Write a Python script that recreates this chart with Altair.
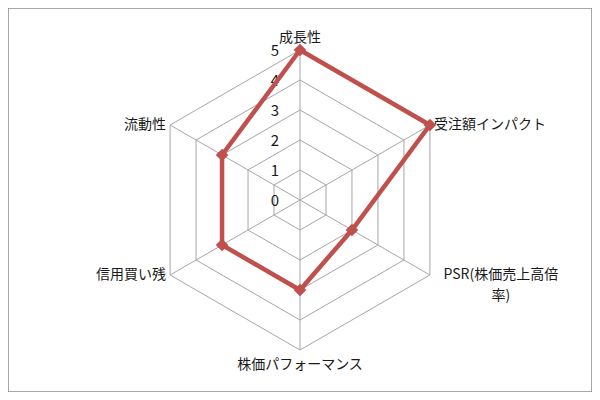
import altair as alt
import pandas as pd

# radar chart: six scoring axes, clockwise from the top
categories = ["成長性", "受注額インパクト", "PSR(株価売上高倍\n率)",
              "株価パフォーマンス", "信用買い残", "流動性"]
scores = [5, 5, 2, 3, 3, 3]
levels = [0, 1, 2, 3, 4, 5]

n = len(categories)
rmax = max(levels)
red = "#C0504D"
grid_col = "#A6A6A6"
font = "Noto Sans CJK JP"

# closed polygon of the scores
score_df = pd.DataFrame({
    "cat": categories + [categories[0]],
    "idx": list(range(n)) + [n],
    "r": scores + [scores[0]],
})
point_df = score_df.iloc[:n]

# grid rings (one closed hexagon per level)
ring_df = pd.DataFrame(
    [{"level": lv, "idx": i, "r": lv} for lv in levels[1:] for i in range(n + 1)]
)
spoke_df = pd.DataFrame({"idx": list(range(n)), "r": [rmax] * n})
tick_df = pd.DataFrame({"level": levels})
label_df = pd.DataFrame({"cat": categories, "idx": list(range(n)), "r": [rmax] * n})

polar = dict(
    ang=f"PI / 2 - datum.idx * 2 * PI / {n}",
)


def to_xy(chart):
    return chart.transform_calculate(**polar).transform_calculate(
        x="datum.r * cos(datum.ang)", y="datum.r * sin(datum.ang)"
    )


W, H = 584, 384
unit = 30.0  # pixels per score unit
xs = alt.Scale(domain=[-W / 2 / unit, W / 2 / unit], nice=False, zero=False)
ys = alt.Scale(domain=[-H / 2 / unit, H / 2 / unit], nice=False, zero=False)
X = alt.X("x:Q", scale=xs, axis=None)
Y = alt.Y("y:Q", scale=ys, axis=None)

rings = to_xy(alt.Chart(ring_df)).mark_line(
    color=grid_col, strokeWidth=1
).encode(x=X, y=Y, detail="level:N", order="idx:Q")

spokes = to_xy(alt.Chart(spoke_df)).transform_calculate(
    x0="0", y0="0"
).mark_rule(color=grid_col, strokeWidth=1).encode(
    x=alt.X("x0:Q", scale=xs, axis=None), y=alt.Y("y0:Q", scale=ys, axis=None),
    x2="x:Q", y2="y:Q"
)

ticks = alt.Chart(tick_df).transform_calculate(
    x="0", y="datum.level"
).mark_text(
    align="right", baseline="middle", dx=-21, dy=1, font=font, fontSize=15, color="#1a1a1a"
).encode(x=X, y=Y, text="level:Q")

line = to_xy(alt.Chart(score_df)).mark_line(
    color=red, strokeWidth=4.5, strokeJoin="miter"
).encode(x=X, y=Y, order="idx:Q")

points = to_xy(alt.Chart(point_df)).mark_point(
    shape="diamond", filled=True, size=160, opacity=1, color=red
).encode(x=X, y=Y)

base_lbl = to_xy(alt.Chart(label_df))
txt = dict(font=font, fontSize=14, color="#1a1a1a", lineBreak="\n")

lbl_top = base_lbl.transform_filter("datum.idx == 0").mark_text(
    align="center", baseline="bottom", dy=-5, **txt
).encode(x=X, y=Y, text="cat:N")
lbl_bottom = base_lbl.transform_filter("datum.idx == 3").mark_text(
    align="center", baseline="top", dy=8, **txt
).encode(x=X, y=Y, text="cat:N")
lbl_right = base_lbl.transform_filter("datum.idx == 1").mark_text(
    align="left", baseline="middle", dx=4, **txt
).encode(x=X, y=Y, text="cat:N")
lbl_right2 = base_lbl.transform_filter("datum.idx == 2").mark_text(
    align="center", baseline="middle", dx=71, lineHeight=21, **txt
).encode(x=X, y=Y, text="cat:N")
lbl_left = base_lbl.transform_filter("datum.idx >= 4").mark_text(
    align="right", baseline="middle", dx=-4, **txt
).encode(x=X, y=Y, text="cat:N")

chart = alt.layer(
    rings, spokes, ticks, line, points,
    lbl_top, lbl_bottom, lbl_right, lbl_right2, lbl_left
).properties(
    width=W, height=H, padding=0,
    autosize=alt.AutoSizeParams(type="none"),
).configure_view(stroke="#8C8C8C", strokeWidth=1.5)

chart.save("out.html", embed_options={"renderer": "svg", "actions": False})
